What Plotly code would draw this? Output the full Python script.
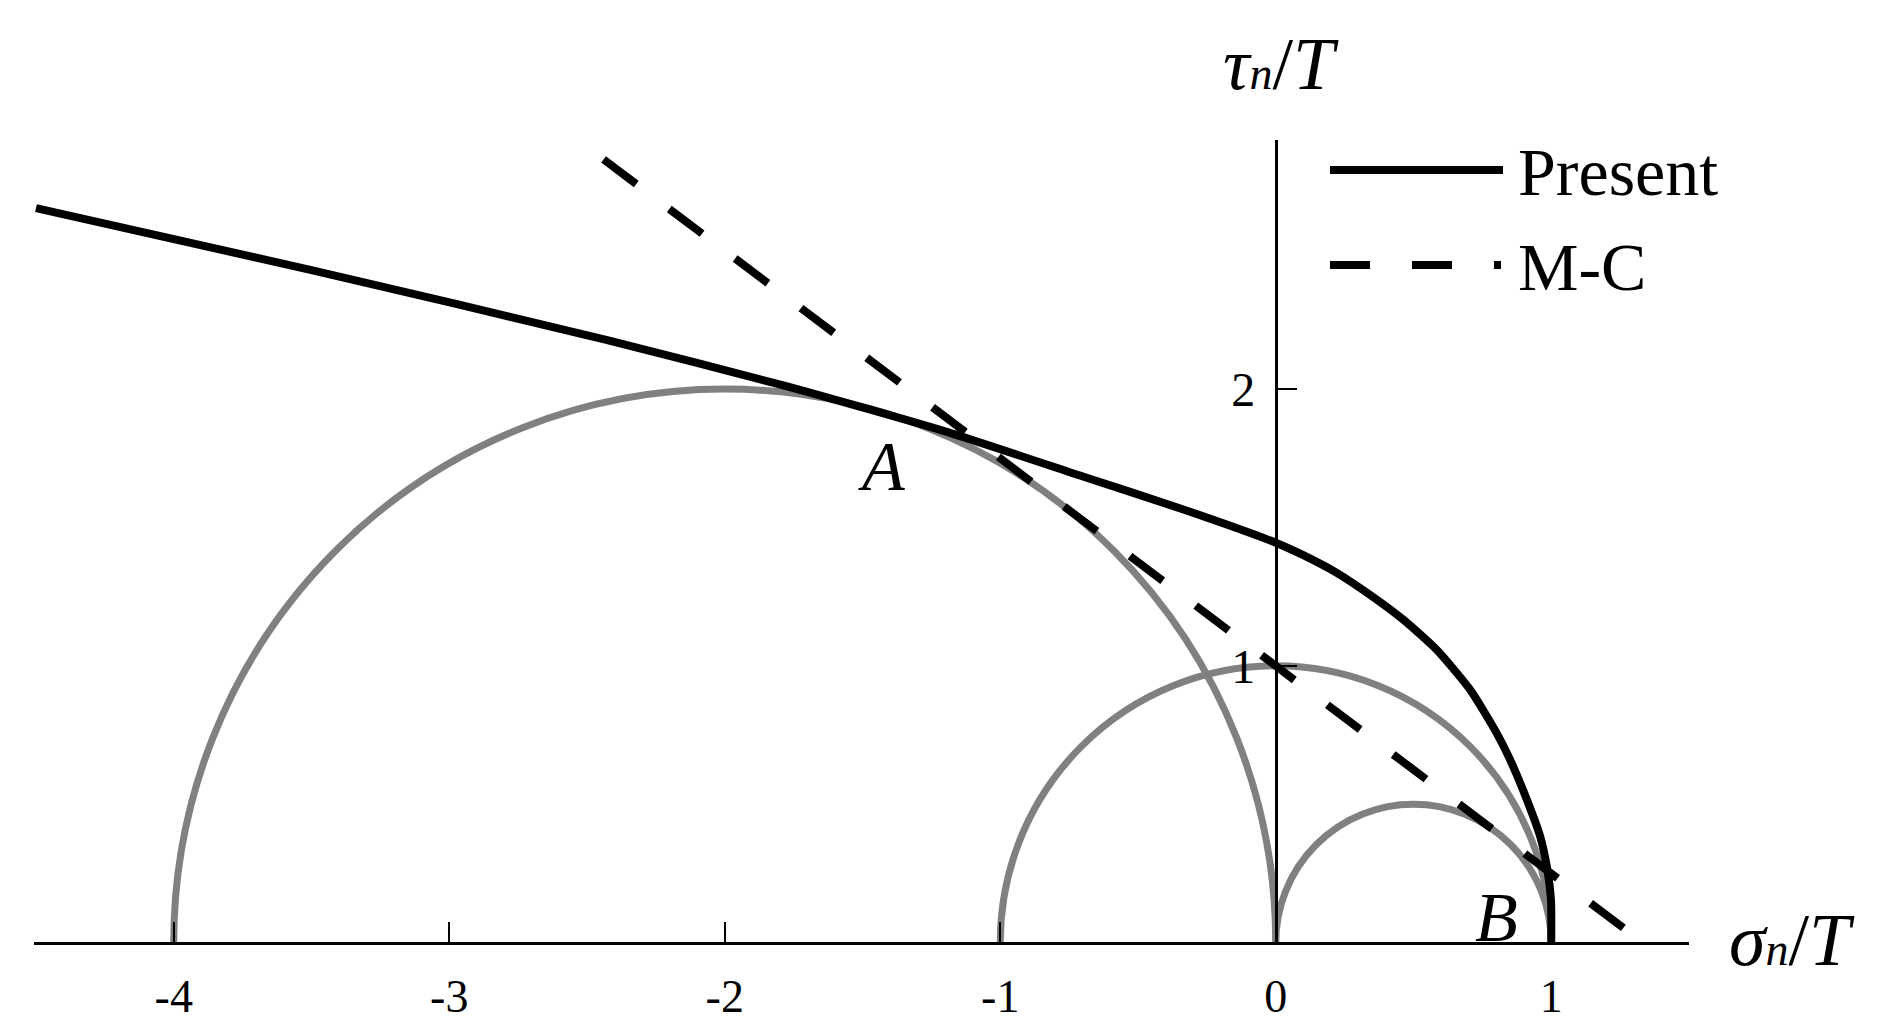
import plotly.graph_objects as go

W, H = 1878, 1034
FONT = 'Liberation Serif'

# Mohr circles (centre, radius) in sigma_n/T units
circle_centres = [-2.0, 0.0, 0.5]
circle_radii = [2.0, 1.0, 0.5]

# strength envelope of the present criterion
present_x = [-4.50, -3.50, -2.43, -1.77, -1.18, -0.70, -0.335, 0.00, 0.10, 0.22,
             0.343, 0.464, 0.585, 0.706, 0.803, 0.851, 0.912, 0.960, 0.984, 0.999, 1.00]
present_y = [2.654, 2.43, 2.178, 2.009, 1.841, 1.684, 1.565, 1.445, 1.40, 1.337,
             1.256, 1.166, 1.057, 0.913, 0.755, 0.660, 0.515, 0.383, 0.274, 0.154, 0.0]

# Mohr-Coulomb straight line
mc_x = [-2.44, 0.0, 1.262]
mc_y = [2.83, 1.0, 0.053]

x_ticks = [-4, -3, -2, -1, 0, 1]
x_tick_labels = ['-4', '-3', '-2', '-1', '0', '1']
y_ticks = [1, 2]
y_tick_labels = ['1', '2']

point_labels = ['A', 'B']
point_x = [-1.43, 0.80]
point_y = [1.72, 0.09]


def paper(px, py):
    # pixel position on the page -> paper coords
    return px / W, 1 - py / H


fig = go.Figure()

fig.add_trace(go.Scatter(
    x=present_x, y=present_y, mode='lines', name='Present',
    line=dict(color='black', width=8, shape='spline', smoothing=0.6),
))
fig.add_trace(go.Scatter(
    x=mc_x, y=mc_y, mode='lines', name='M-C',
    line=dict(color='black', width=8, dash='41px,41.4px'),
))

shapes = []
for c, r in zip(circle_centres, circle_radii):
    shapes.append(dict(type='circle', xref='x', yref='y', layer='below',
                       x0=c - r, x1=c + r, y0=-r, y1=r,
                       line=dict(color='#808080', width=7)))

# hand drawn legend keys
lx0, ly0 = paper(1330, 170)
lx1, _ = paper(1503, 170)
shapes.append(dict(type='line', xref='paper', yref='paper', x0=lx0, x1=lx1, y0=ly0, y1=ly0,
                   line=dict(color='black', width=8)))
mx0, my0 = paper(1330, 265)
mx1, _ = paper(1501, 265)
shapes.append(dict(type='line', xref='paper', yref='paper', x0=mx0, x1=mx1, y0=my0, y1=my0,
                   line=dict(color='black', width=8, dash='40px,42px')))

annotations = []
tx, ty = paper(1281, 64)
annotations.append(dict(xref='paper', yref='paper', x=tx, y=ty, xanchor='center', yanchor='middle',
                        text="<i>τ</i><span style='font-size:46px'><i>n</i></span>/<i>T</i>",
                        showarrow=False, font=dict(family=FONT, size=74, color='black')))
sx, sy = paper(1792, 940)
annotations.append(dict(xref='paper', yref='paper', x=sx, y=sy, xanchor='center', yanchor='middle',
                        text="<i>σ</i><span style='font-size:46px'><i>n</i></span>/<i>T</i>",
                        showarrow=False, font=dict(family=FONT, size=74, color='black')))
for txt, py in [('Present', 172), ('M-C', 267)]:
    ax, ay = paper(1516, py)
    annotations.append(dict(xref='paper', yref='paper', x=ax, y=ay, xanchor='left', yanchor='middle',
                            text=txt, showarrow=False,
                            font=dict(family=FONT, size=68, color='black')))
for txt, x, y in zip(point_labels, point_x, point_y):
    annotations.append(dict(x=x, y=y, text=f'<i>{txt}</i>', showarrow=False,
                            xanchor='center', yanchor='middle',
                            font=dict(family=FONT, size=70, color='black')))

fig.update_layout(
    width=W, height=H,
    margin=dict(l=0, r=0, t=0, b=0),
    plot_bgcolor='white', paper_bgcolor='white',
    showlegend=False,
    shapes=shapes,
    annotations=annotations,
)
fig.update_xaxes(
    domain=[33.5 / W, 1689 / W], range=[-4.509, 1.5],
    anchor='free', position=(H - 942.6) / H,
    showline=True, linewidth=3, linecolor='black',
    ticks='inside', ticklen=20, tickwidth=2, tickcolor='black',
    tickvals=x_ticks, ticktext=x_tick_labels, ticklabelstandoff=12,
    tickfont=dict(family=FONT, size=46, color='black'),
    showgrid=False, zeroline=False,
)
fig.update_yaxes(
    domain=[(H - 942.6) / H, (H - 140) / H], range=[0, 2.9],
    anchor='free', position=1275.5 / W, side='left',
    showline=True, linewidth=2.5, linecolor='black',
    ticks='inside', ticklen=20, tickwidth=2, tickcolor='black',
    tickvals=y_ticks, ticktext=y_tick_labels, ticklabelstandoff=10,
    tickfont=dict(family=FONT, size=48, color='black'),
    showgrid=False, zeroline=False,
)

fig.write_html("out.html", config={'displayModeBar': False},
               post_script="document.body.style.margin='0';")
